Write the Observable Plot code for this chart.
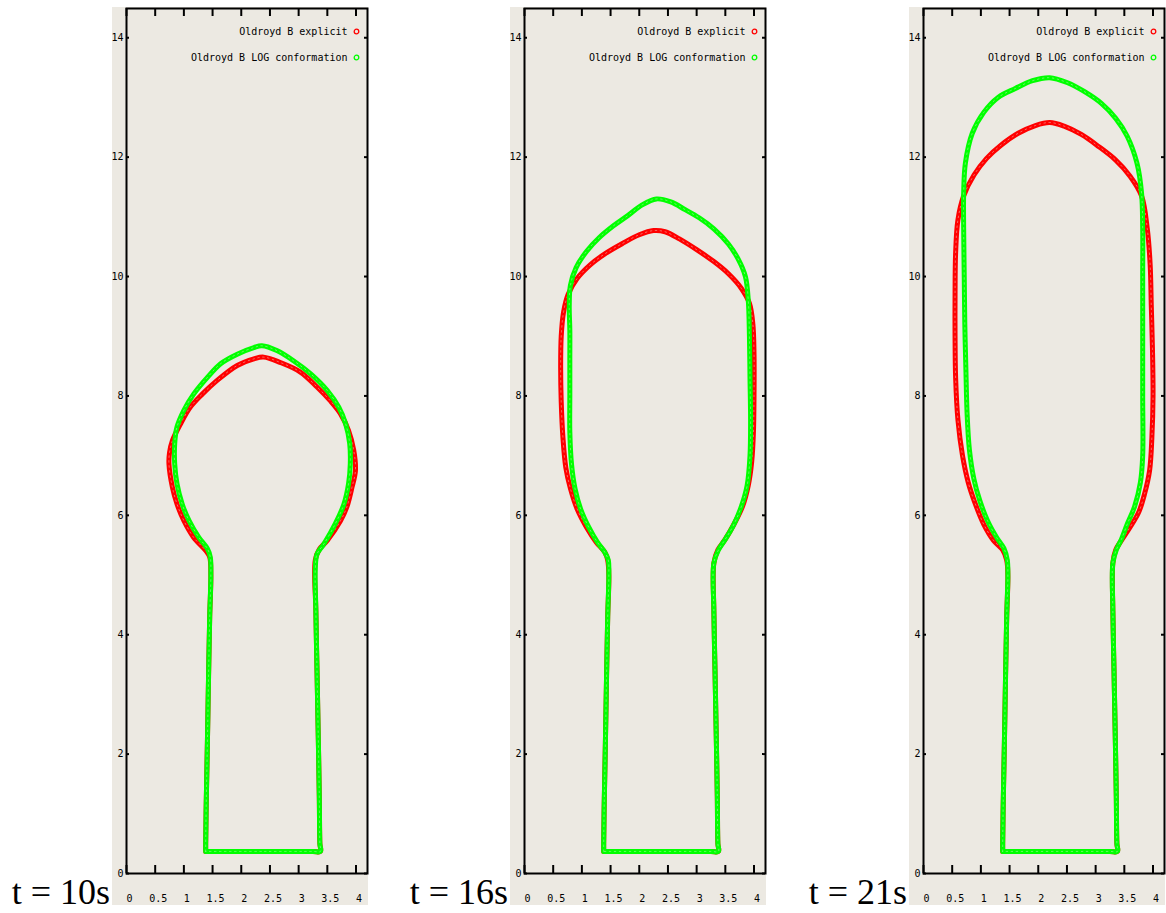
<!DOCTYPE html>
<html><head><meta charset="utf-8">
<script src="https://cdn.jsdelivr.net/npm/d3@7"></script>
<script src="https://cdn.jsdelivr.net/npm/@observablehq/plot@0.6"></script>
<style>
body{margin:0;background:#fff;}
#root{position:relative;width:1166px;height:913px;overflow:hidden;background:#fff;}
.panel{position:absolute;top:7px;}
.tlabel{position:absolute;top:874px;text-align:right;font-family:"Liberation Serif","DejaVu Serif",serif;font-size:36px;line-height:1;white-space:nowrap;color:#000;}
</style></head><body><div id="root"></div>
<script>
const timeLabels = ["t = 10s", "t = 16s", "t = 21s"];
const seriesNames = ["Oldroyd B explicit", "Oldroyd B LOG conformation"];
const seriesColors = ["#ff0000", "#00ff00"];
const xTicks = [0, 0.5, 1, 1.5, 2, 2.5, 3, 3.5, 4];
const xTickLabels = ["0", "0.5", "1", "1.5", "2", "2.5", "3", "3.5", "4"];
const yTicks = [0, 2, 4, 6, 8, 10, 12, 14];

// t = 10s
const explicit10 = [[1.38,0.37],[1.38,0.5],[1.39,1.2],[1.41,2.2],[1.43,3.3],[1.45,4.3],[1.47,5.0],[1.45,5.3],[1.38,5.41],[1.17,5.63],[1.0,5.91],[0.88,6.19],[0.8,6.47],[0.74,6.86],[0.75,7.05],[0.8,7.25],[0.94,7.53],[1.11,7.81],[1.32,8.03],[1.58,8.26],[1.93,8.51],[2.22,8.62],[2.39,8.65],[2.68,8.56],[3.03,8.4],[3.32,8.15],[3.55,7.92],[3.73,7.7],[3.87,7.42],[3.96,7.09],[3.99,6.75],[3.93,6.47],[3.84,6.14],[3.73,5.91],[3.5,5.58],[3.36,5.43],[3.29,5.25],[3.3,4.4],[3.32,3.4],[3.34,2.4],[3.36,1.3],[3.37,0.5],[3.38,0.37],[3.25,0.37],[2.4,0.37],[1.5,0.37],[1.38,0.37]];
const log10 = [[1.38,0.37],[1.38,0.5],[1.39,1.2],[1.41,2.2],[1.43,3.3],[1.45,4.3],[1.47,5.0],[1.46,5.3],[1.41,5.44],[1.26,5.63],[1.09,5.91],[0.97,6.19],[0.88,6.53],[0.84,6.86],[0.84,7.2],[0.88,7.48],[1.0,7.76],[1.17,8.03],[1.41,8.31],[1.64,8.54],[1.93,8.7],[2.22,8.81],[2.36,8.84],[2.62,8.76],[2.91,8.59],[3.21,8.37],[3.5,8.09],[3.7,7.81],[3.82,7.53],[3.89,7.2],[3.9,6.86],[3.87,6.53],[3.79,6.19],[3.64,5.86],[3.44,5.52],[3.32,5.35],[3.29,5.1],[3.3,4.4],[3.32,3.4],[3.34,2.4],[3.36,1.3],[3.37,0.5],[3.38,0.37],[3.25,0.37],[2.4,0.37],[1.5,0.37],[1.38,0.37]];

// t = 16s
const explicit16 = [[1.38,0.37],[1.38,0.5],[1.39,1.2],[1.41,2.2],[1.43,3.3],[1.45,4.3],[1.47,5.0],[1.45,5.25],[1.4,5.38],[1.25,5.55],[1.08,5.8],[0.92,6.1],[0.8,6.45],[0.72,6.8],[0.67,7.3],[0.64,7.9],[0.63,8.5],[0.64,9.0],[0.68,9.4],[0.76,9.7],[0.92,9.97],[1.15,10.2],[1.4,10.38],[1.7,10.55],[2.0,10.7],[2.25,10.77],[2.45,10.75],[2.7,10.63],[3.0,10.45],[3.3,10.25],[3.55,10.05],[3.78,9.8],[3.92,9.55],[3.98,9.2],[4.0,8.7],[4.0,8.0],[3.99,7.4],[3.96,6.9],[3.9,6.5],[3.8,6.15],[3.65,5.85],[3.5,5.6],[3.37,5.42],[3.3,5.2],[3.3,4.4],[3.32,3.4],[3.34,2.4],[3.36,1.3],[3.37,0.5],[3.38,0.37],[3.25,0.37],[2.4,0.37],[1.5,0.37],[1.38,0.37]];
const log16 = [[1.38,0.37],[1.38,0.5],[1.39,1.2],[1.41,2.2],[1.43,3.3],[1.45,4.3],[1.47,5.0],[1.46,5.25],[1.4,5.38],[1.27,5.55],[1.12,5.8],[0.98,6.1],[0.88,6.45],[0.82,6.85],[0.79,7.4],[0.79,8.0],[0.79,8.6],[0.79,9.1],[0.78,9.5],[0.8,9.85],[0.9,10.15],[1.08,10.42],[1.3,10.65],[1.55,10.85],[1.8,11.02],[2.05,11.2],[2.3,11.3],[2.55,11.25],[2.8,11.12],[3.05,10.98],[3.3,10.8],[3.55,10.55],[3.72,10.3],[3.85,10.0],[3.9,9.6],[3.92,9.0],[3.93,8.3],[3.94,7.6],[3.93,7.0],[3.88,6.5],[3.78,6.15],[3.65,5.85],[3.5,5.6],[3.38,5.42],[3.3,5.2],[3.3,4.4],[3.32,3.4],[3.34,2.4],[3.36,1.3],[3.37,0.5],[3.38,0.37],[3.25,0.37],[2.4,0.37],[1.5,0.37],[1.38,0.37]];

// t = 21s
const explicit21 = [[1.38,0.37],[1.38,0.5],[1.39,1.2],[1.41,2.2],[1.43,3.3],[1.45,4.3],[1.47,5.0],[1.45,5.25],[1.38,5.42],[1.22,5.58],[1.05,5.85],[0.9,6.2],[0.78,6.55],[0.68,7.0],[0.6,7.6],[0.56,8.3],[0.55,9.0],[0.55,9.7],[0.56,10.4],[0.6,10.95],[0.7,11.35],[0.88,11.7],[1.1,11.98],[1.35,12.2],[1.65,12.4],[1.95,12.53],[2.2,12.58],[2.45,12.52],[2.75,12.38],[3.05,12.18],[3.35,11.95],[3.6,11.68],[3.8,11.35],[3.9,10.8],[3.95,10.2],[3.97,9.5],[3.99,8.8],[4.0,8.0],[3.98,7.3],[3.94,6.75],[3.85,6.35],[3.75,6.05],[3.6,5.8],[3.45,5.58],[3.35,5.42],[3.3,5.2],[3.3,4.4],[3.32,3.4],[3.34,2.4],[3.36,1.3],[3.37,0.5],[3.38,0.37],[3.25,0.37],[2.4,0.37],[1.5,0.37],[1.38,0.37]];
const log21 = [[1.38,0.37],[1.38,0.5],[1.39,1.2],[1.41,2.2],[1.43,3.3],[1.45,4.3],[1.47,5.0],[1.46,5.25],[1.4,5.45],[1.28,5.62],[1.12,5.9],[0.98,6.25],[0.88,6.6],[0.8,7.1],[0.76,7.7],[0.74,8.4],[0.72,9.2],[0.71,10.0],[0.7,10.8],[0.7,11.4],[0.73,11.9],[0.85,12.4],[1.05,12.75],[1.3,13.0],[1.6,13.15],[1.9,13.28],[2.2,13.33],[2.5,13.25],[2.8,13.1],[3.1,12.9],[3.35,12.65],[3.55,12.35],[3.72,11.9],[3.8,11.4],[3.82,10.8],[3.82,10.0],[3.82,9.0],[3.82,8.0],[3.82,7.0],[3.78,6.55],[3.68,6.15],[3.55,5.85],[3.45,5.6],[3.36,5.42],[3.3,5.2],[3.3,4.4],[3.32,3.4],[3.34,2.4],[3.36,1.3],[3.37,0.5],[3.38,0.37],[3.25,0.37],[2.4,0.37],[1.5,0.37],[1.38,0.37]];

const panels = [
  {explicit: explicit10, log: log10},
  {explicit: explicit16, log: log16},
  {explicit: explicit21, log: log21}
];
const panelLeft = [112, 510, 909];

const W = 256, H = 898, mL = 14, mR = 1, mT = 1, mB = 32;
const innerW = W - mL - mR, innerH = H - mT - mB;
const bg = "#ece9e2";
const root = document.getElementById("root");

function band(data, color) {
  return [
    Plot.line(data, {x: d => d[0], y: d => d[1], stroke: color, strokeWidth: 5, strokeLinejoin: "round", curve: "catmull-rom"}),
    Plot.line(data, {x: d => d[0], y: d => d[1], stroke: bg, strokeOpacity: 0.45, strokeWidth: 1, strokeDasharray: "1.5 3.5", curve: "catmull-rom"})
  ];
}

panels.forEach((p, i) => {
  const fig = Plot.plot({
    width: W, height: H,
    marginLeft: mL, marginRight: mR, marginTop: mT, marginBottom: mB,
    x: {domain: [0, 4.2], axis: null},
    y: {domain: [0, 14.49], axis: null},
    style: {background: bg, fontFamily: "'DejaVu Sans Mono', monospace", fontSize: "10px", color: "#000", overflow: "visible"},
    marks: [
      ...band(p.explicit, seriesColors[0]),
      ...band(p.log, seriesColors[1]),
      Plot.ruleX(xTicks, {x: d => d, insetTop: innerH - 8, stroke: "#000", strokeWidth: 2}),
      Plot.ruleX(xTicks, {x: d => d, insetBottom: innerH - 8, stroke: "#000", strokeWidth: 2}),
      Plot.ruleY(yTicks, {y: d => d, insetRight: innerW - 3, stroke: "#000", strokeWidth: 2}),
      Plot.ruleY(yTicks, {y: d => d, insetLeft: innerW - 3, stroke: "#000", strokeWidth: 2}),
      Plot.frame({stroke: "#000", strokeWidth: 2}),
      Plot.text(xTicks, {x: d => d, text: (d, j) => xTickLabels[j], frameAnchor: "bottom", lineAnchor: "middle", dy: 25, dx: 3, fontSize: 10, fill: "#000"}),
      Plot.text(yTicks, {y: d => d, text: d => String(d), frameAnchor: "left", lineAnchor: "middle", textAnchor: "end", dx: -3, fontSize: 10, fill: "#000"}),
      Plot.text([seriesNames[0]], {text: d => d, frameAnchor: "top-right", lineAnchor: "middle", textAnchor: "end", dx: -20, dy: 23, fill: "#000"}),
      Plot.text([seriesNames[1]], {text: d => d, frameAnchor: "top-right", lineAnchor: "middle", textAnchor: "end", dx: -20, dy: 49, fill: "#000"}),
      Plot.dot([0], {frameAnchor: "top-right", dx: -11, dy: 23, r: 2.3, stroke: seriesColors[0], strokeWidth: 1.3, fill: "none"}),
      Plot.dot([0], {frameAnchor: "top-right", dx: -11, dy: 49, r: 2.3, stroke: seriesColors[1], strokeWidth: 1.3, fill: "none"})
    ]
  });
  const wrap = document.createElement("div");
  wrap.className = "panel";
  wrap.style.left = panelLeft[i] + "px";
  wrap.appendChild(fig);
  root.appendChild(wrap);

  const lab = document.createElement("div");
  lab.className = "tlabel";
  lab.style.left = "0px";
  lab.style.width = (panelLeft[i] - 2) + "px";
  lab.textContent = timeLabels[i];
  root.appendChild(lab);
});
</script>
</body></html>
